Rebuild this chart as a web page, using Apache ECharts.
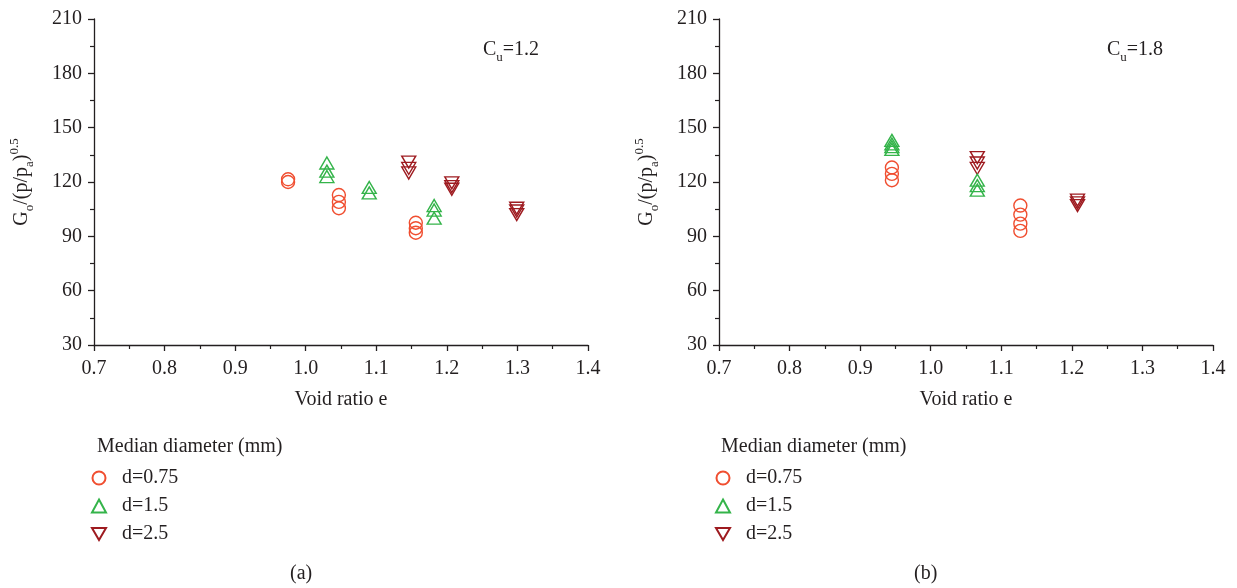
<!DOCTYPE html>
<html>
<head>
<meta charset="utf-8">
<script src="https://cdn.jsdelivr.net/npm/echarts@6/dist/echarts.min.js"></script>
<style>
  html, body { margin: 0; padding: 0; background: #fff; }
  #chart { width: 1237px; height: 588px; }
</style>
</head>
<body>
<div id="chart"></div>
<script>
// Normalised shear modulus Go/(p/pa)^0.5 against void ratio e, [e, value]
const panelA_d075 = [[0.975, 121.5], [0.975, 120], [1.047, 112.8], [1.047, 109], [1.047, 105.5], [1.156, 97.5], [1.156, 94.5], [1.156, 92]];
const panelA_d15  = [[1.030, 130.5], [1.030, 126], [1.030, 123], [1.090, 117], [1.090, 114], [1.182, 107], [1.182, 104.5], [1.182, 100]];
const panelA_d25  = [[1.146, 131], [1.146, 127.5], [1.146, 125], [1.207, 119.5], [1.207, 117.5], [1.207, 116], [1.299, 105.5], [1.299, 104], [1.299, 102]];

const panelB_d075 = [[0.945, 128], [0.945, 124.5], [0.945, 121], [1.127, 107], [1.127, 102], [1.127, 97], [1.127, 93]];
const panelB_d15  = [[0.945, 143], [0.945, 141], [0.945, 139.5], [0.945, 138], [1.066, 121], [1.066, 118], [1.066, 115.5]];
const panelB_d25  = [[1.066, 133.5], [1.066, 130.5], [1.066, 127.5], [1.208, 110], [1.208, 108.5], [1.208, 107]];

const seriesNames = ['d=0.75', 'd=1.5', 'd=2.5'];
const panelLabels = ['(a)', '(b)'];
const cuValues = ['1.2', '1.8'];
const legendTitle = 'Median diameter (mm)';
const xName = 'Void ratio e';
const xMin = 0.7, xMax = 1.4, xStep = 0.1;
const yMin = 30, yMax = 210, yStep = 30;

const FONT = "'Liberation Serif', 'DejaVu Serif', serif";
const FS = 20;
const INK = '#231f20';
const colors = ['#f04e30', '#34b44a', '#9e1b20'];
const symbols = ['circle', 'triangle', 'path://M0,0L20,0L10,17Z'];
const sizes = [13, [14, 12], [14, 12]];

const chart = echarts.init(document.getElementById('chart'));

const grids = [
  { left: 94, right: 649, top: 19, bottom: 243 },
  { left: 719, right: 24, top: 19, bottom: 243 }
];

function xAxis(i) {
  return {
    type: 'value', gridIndex: i, min: xMin, max: xMax, interval: xStep,
    name: xName, nameLocation: 'middle', nameGap: 45,
    nameTextStyle: { fontFamily: FONT, fontSize: FS, color: INK },
    axisLine: { lineStyle: { color: INK, width: 1.3 } },
    axisTick: { length: 6, lineStyle: { color: INK, width: 1.3 } },
    minorTick: { show: true, splitNumber: 2, length: 4, lineStyle: { color: INK, width: 1.2 } },
    splitLine: { show: false },
    axisLabel: { fontFamily: FONT, fontSize: FS, color: INK, margin: 14,
      formatter: v => v.toFixed(1) }
  };
}

function yAxis(i) {
  return {
    type: 'value', gridIndex: i, min: yMin, max: yMax, interval: yStep,
    name: '{n|G}{s|o}{n|/(p/p}{s|a}{n|)}{p|0.5}',
    nameLocation: 'middle', nameGap: 58, nameRotate: 90,
    nameTextStyle: {
      fontFamily: FONT, color: INK,
      rich: {
        n: { fontFamily: FONT, fontSize: FS, color: INK, lineHeight: 28, verticalAlign: 'middle' },
        s: { fontFamily: FONT, fontSize: 13, color: INK, lineHeight: 28, verticalAlign: 'bottom' },
        p: { fontFamily: FONT, fontSize: 13, color: INK, lineHeight: 28, verticalAlign: 'top' }
      }
    },
    axisLine: { show: true, lineStyle: { color: INK, width: 1.3 } },
    axisTick: { show: true, length: 6, lineStyle: { color: INK, width: 1.3 } },
    minorTick: { show: true, splitNumber: 2, length: 4, lineStyle: { color: INK, width: 1.2 } },
    splitLine: { show: false },
    axisLabel: { fontFamily: FONT, fontSize: FS, color: INK, margin: 12 }
  };
}

const panels = [
  [panelA_d075, panelA_d15, panelA_d25],
  [panelB_d075, panelB_d15, panelB_d25]
];

const series = [];
panels.forEach((sets, p) => {
  sets.forEach((data, k) => {
    series.push({
      type: 'scatter', name: seriesNames[k],
      xAxisIndex: p, yAxisIndex: p,
      data: data,
      symbol: symbols[k], symbolSize: sizes[k],
      itemStyle: { color: 'rgba(255,255,255,0)', borderColor: colors[k], borderWidth: 1.4, opacity: 1 },
      emphasis: { disabled: true },
      z: 3 - k
    });
  });
});

function legend(left) {
  return {
    orient: 'vertical', left: left, top: 463,
    itemWidth: 14, itemHeight: 13, itemGap: 8,
    data: seriesNames.map((n, k) => ({ name: n, icon: symbols[k] })),
    textStyle: { fontFamily: FONT, fontSize: FS, color: INK, padding: [0, 0, 0, 11] },
    selectedMode: false
  };
}

function textEl(left, top, text, rich) {
  return {
    type: 'text', left: left, top: top,
    style: { text: text, font: FS + 'px ' + FONT, fill: INK, rich: rich }
  };
}

const cuRich = {
  n: { fontFamily: FONT, fontSize: FS, fill: INK, lineHeight: 28, verticalAlign: 'middle' },
  s: { fontFamily: FONT, fontSize: 13, fill: INK, lineHeight: 28, verticalAlign: 'bottom' }
};

chart.setOption({
  animation: false,
  backgroundColor: '#ffffff',
  grid: grids,
  xAxis: [xAxis(0), xAxis(1)],
  yAxis: [yAxis(0), yAxis(1)],
  legend: [legend(86), legend(710)],
  series: series,
  graphic: [
    textEl(483, 40, '{n|C}{s|u}{n|=' + cuValues[0] + '}', cuRich),
    textEl(1107, 40, '{n|C}{s|u}{n|=' + cuValues[1] + '}', cuRich),
    textEl(97, 437, legendTitle),
    textEl(721, 437, legendTitle),
    textEl(290, 564, panelLabels[0]),
    textEl(914, 564, panelLabels[1])
  ]
});
</script>
</body>
</html>
